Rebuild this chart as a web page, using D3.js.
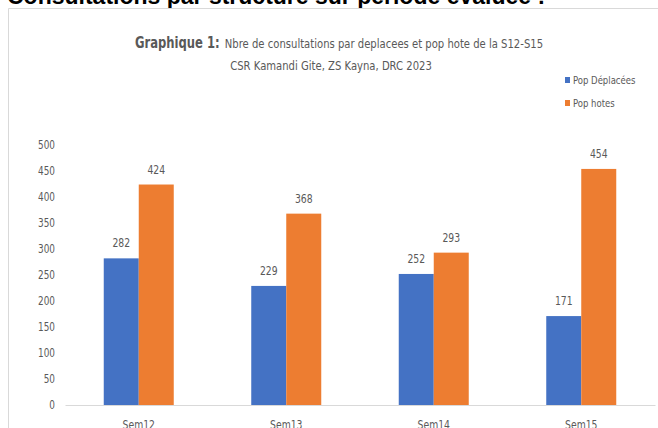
<!DOCTYPE html>
<html>
<head>
<meta charset="utf-8">
<script src="https://cdn.jsdelivr.net/npm/d3@7"></script>
<style>
  body { margin: 0; background: #fff; }
  svg { display: block; }
  .nar { font-family: "Liberation Sans Narrow", "DejaVu Sans Condensed", sans-serif; fill: #595959; }
</style>
</head>
<body>
<script>
'use strict';

// data
var weeks = ['Sem12', 'Sem13', 'Sem14', 'Sem15'];
var seriesNames = ['Pop Déplacées', 'Pop hotes'];
var deplacees = [282, 229, 252, 171];
var hotes = [424, 368, 293, 454];
var yTicks = [0, 50, 100, 150, 200, 250, 300, 350, 400, 450, 500];
var colors = ['#4472C4', '#ED7D31'];

var W = 658, H = 428;
var plot = {left: 65, right: 655, top: 145, bottom: 405};
var SQ = 0.86; // squeeze text sideways, the original font is narrow

function at(px, py) {
    return 'translate(' + px + ',' + py + ') scale(' + SQ + ',1)';
}

var svg = d3.select('body').append('svg')
    .attr('width', W)
    .attr('height', H);

// heading of the document, cut off at the top
svg.append('text')
    .attr('x', 7)
    .attr('y', 4)
    .attr('font-family', 'Liberation Sans, Arial, sans-serif')
    .attr('font-weight', 'bold')
    .attr('font-size', 23)
    .attr('fill', '#000')
    .text('Consultations par structure sur période évaluée :');

// chart frame
svg.append('path')
    .attr('d', 'M8.5,' + H + 'V8.5H' + W)
    .attr('fill', 'none')
    .attr('stroke', '#d9d9d9');

// title
var t1 = svg.append('text')
    .attr('class', 'nar')
    .attr('transform', at(339, 48))
    .attr('text-anchor', 'middle');
t1.append('tspan').attr('font-weight', 'bold').attr('font-size', 15).text('Graphique 1:');
t1.append('tspan').attr('font-size', 13).attr('dx', 6).text('Nbre de consultations par deplacees et pop hote de la S12-S15');

svg.append('text')
    .attr('class', 'nar')
    .attr('transform', at(331, 70))
    .attr('text-anchor', 'middle')
    .attr('font-size', 13)
    .text('CSR Kamandi Gite, ZS Kayna, DRC 2023');

// scales
var x = d3.scaleBand()
    .domain(weeks)
    .range([plot.left, plot.right]);

var inner = d3.scaleBand()
    .domain(seriesNames)
    .range([0, 70]);

var y = d3.scaleLinear()
    .domain([0, 500])
    .range([plot.bottom, plot.top]);

// y axis (labels only)
var yAxis = svg.append('g')
    .attr('transform', 'translate(55,0)')
    .call(d3.axisLeft(y).tickValues(yTicks).tickSize(0).tickPadding(0));
yAxis.select('.domain').remove();
yAxis.selectAll('text')
    .attr('class', 'nar')
    .attr('font-size', 11.5)
    .attr('fill', '#595959')
    .attr('transform', 'scale(' + SQ + ',1)');

// x axis
var xAxis = svg.append('g')
    .attr('transform', 'translate(0,' + plot.bottom + ')')
    .call(d3.axisBottom(x).tickSize(0).tickPadding(15));
xAxis.select('.domain').attr('stroke', '#d9d9d9');
xAxis.selectAll('text')
    .attr('class', 'nar')
    .attr('font-size', 12)
    .attr('fill', '#595959')
    .attr('transform', 'scale(' + SQ + ',1)');

// bars
var rows = weeks.map(function(w, i) {
    return {week: w, values: [deplacees[i], hotes[i]]};
});

var groups = svg.selectAll('.grp')
    .data(rows)
    .enter().append('g')
    .attr('class', 'grp')
    .attr('transform', function(d) {
        return 'translate(' + (x(d.week) + x.bandwidth() / 2 - 35) + ',0)';
    });

groups.selectAll('rect')
    .data(function(d) { return d.values.map(function(v, j) { return {v: v, s: seriesNames[j], j: j}; }); })
    .enter().append('rect')
    .attr('x', function(d) { return inner(d.s); })
    .attr('y', function(d) { return y(d.v); })
    .attr('width', inner.bandwidth())
    .attr('height', function(d) { return y(0) - y(d.v); })
    .attr('fill', function(d) { return colors[d.j]; });

groups.selectAll('.lbl')
    .data(function(d) { return d.values.map(function(v, j) { return {v: v, s: seriesNames[j]}; }); })
    .enter().append('text')
    .attr('class', 'nar lbl')
    .attr('transform', function(d) { return at(inner(d.s) + inner.bandwidth() / 2, y(d.v) - 11); })
    .attr('text-anchor', 'middle')
    .attr('font-size', 12)
    .text(function(d) { return d.v; });

// legend
var legend = svg.selectAll('.leg')
    .data(seriesNames)
    .enter().append('g')
    .attr('class', 'leg')
    .attr('transform', function(d, i) { return 'translate(565,' + (81 + i * 23) + ')'; });

legend.append('rect')
    .attr('x', 0)
    .attr('y', -4)
    .attr('width', 5)
    .attr('height', 6)
    .attr('fill', function(d, i) { return colors[i]; });

legend.append('text')
    .attr('class', 'nar')
    .attr('transform', at(8, 3))
    .attr('font-size', 11)
    .text(function(d) { return d; });
</script>
</body>
</html>
